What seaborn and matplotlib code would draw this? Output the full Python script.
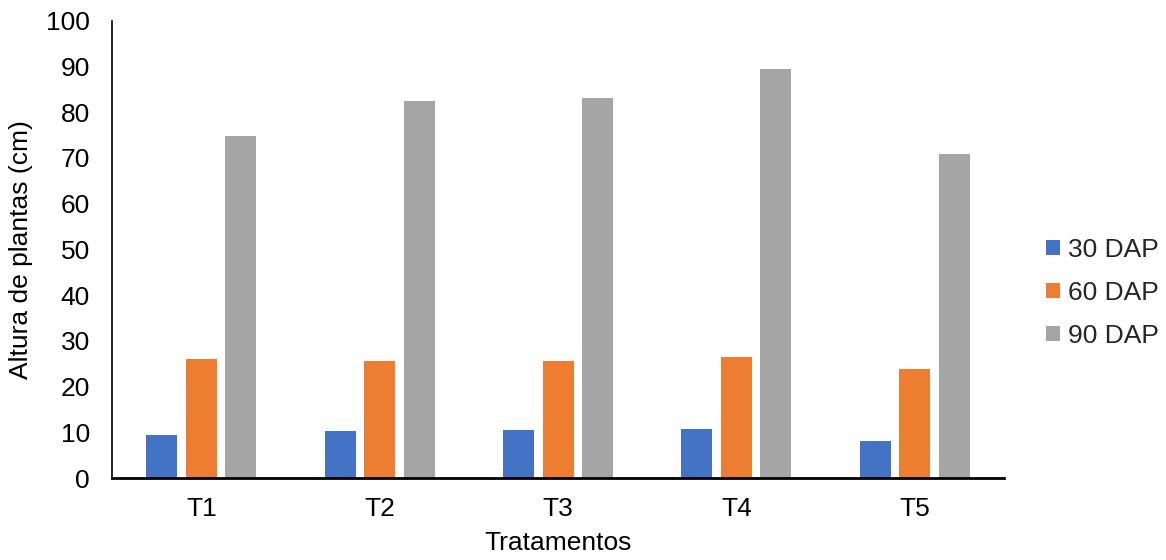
import matplotlib
matplotlib.use("Agg")
import matplotlib.pyplot as plt
import seaborn as sns
import pandas as pd

# Plant height (cm) by treatment at three sampling dates
tratamentos = ["T1", "T2", "T3", "T4", "T5"]
dap_30 = [9.3, 10.2, 10.5, 10.7, 8.1]
dap_60 = [26.0, 25.6, 25.6, 26.5, 23.8]
dap_90 = [74.9, 82.5, 83.0, 89.5, 70.8]
series = ["30 DAP", "60 DAP", "90 DAP"]
colors = ["#4472C4", "#ED7D31", "#A5A5A5"]
yticks = list(range(0, 101, 10))

rows = []
for name, vals in zip(series, [dap_30, dap_60, dap_90]):
    for t, v in zip(tratamentos, vals):
        rows.append({"Tratamento": t, "Serie": name, "Altura": v})
df = pd.DataFrame(rows)

sns.set_theme(style="white")
plt.rcParams["font.family"] = ["Liberation Sans", "DejaVu Sans"]

FS = 19

fig = plt.figure(figsize=(11.66, 5.60), dpi=100)
ax = fig.add_axes([0.0961, 0.1464, 0.765, 0.8166])

sns.barplot(data=df, x="Tratamento", y="Altura", hue="Serie",
            hue_order=series, palette=colors, order=tratamentos,
            width=0.664, gap=0.215, saturation=1, ax=ax,
            edgecolor="none", linewidth=0, errorbar=None)

ax.set_ylim(0, 100)
ax.set_yticks(yticks)
ax.set_xlim(-0.5, len(tratamentos) - 0.5)
ax.tick_params(axis="both", length=0, labelsize=FS, colors="black")
ax.tick_params(axis="y", pad=16)
ax.tick_params(axis="x", pad=14)
ax.set_ylabel("Altura de plantas (cm)", fontsize=FS, color="black", labelpad=9)
ax.set_xlabel("Tratamentos", fontsize=FS, color="black", labelpad=7)

for side in ["top", "right"]:
    ax.spines[side].set_visible(False)
ax.spines["left"].set_color("black")
ax.spines["left"].set_linewidth(1.2)
ax.spines["bottom"].set_color("black")
ax.spines["bottom"].set_linewidth(2.0)

handles, labels = ax.get_legend_handles_labels()
ax.legend(handles, labels, loc="center left", bbox_to_anchor=(1.035, 0.405),
          frameon=False, fontsize=FS, handlelength=0.55, handleheight=0.55,
          handletextpad=0.3, labelspacing=0.72, borderaxespad=0)

fig.savefig("out.png", dpi=100)
